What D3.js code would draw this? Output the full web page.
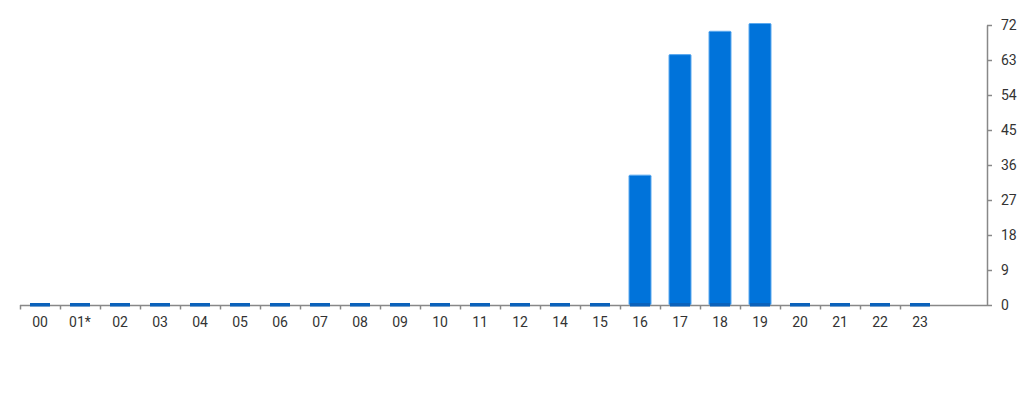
<!DOCTYPE html>
<html><head><meta charset="utf-8">
<script src="https://cdn.jsdelivr.net/npm/d3@7"></script>
<style>
html,body{margin:0;padding:0;background:#fff;}
svg{display:block;font-family:Roboto,"Noto Sans",sans-serif;}
</style></head>
<body>
<svg id="chart" width="1024" height="400"></svg>
<script>
const categories = ["00","01*","02","03","04","05","06","07","08","09","10","11","12","14","15","16","17","18","19","20","21","22","23"];
const values = [0,0,0,0,0,0,0,0,0,0,0,0,0,0,0,33,64,70,72,0,0,0,0];
const yTicks = [0,9,18,27,36,45,54,63,72];

(function(){
const svg = d3.select("#chart");
const mLeft = 20, axisRight = 987, mTop = 25, mBottom = 305, step = 40;

const x = d3.scaleBand().domain(categories).range([mLeft, mLeft + step * categories.length]).paddingInner(0).paddingOuter(0);
const y = d3.scaleLinear().domain([0, 72]).range([mBottom, mTop]);

// bars
svg.append("g").selectAll("rect.bar")
  .data(values.map((v, i) => ({c: categories[i], v})).filter(d => d.v > 0))
  .join("rect")
  .attr("x", d => x(d.c) + x.bandwidth() / 2 - 11)
  .attr("width", 22)
  .attr("y", d => y(d.v) - 1.5)
  .attr("height", d => mBottom - y(d.v) + 1.5)
  .attr("rx", 1)
  .attr("fill", "#0073da")
  .attr("stroke", "#5aa9ef")
  .attr("stroke-width", 1);

// x axis line
svg.append("line")
  .attr("x1", mLeft).attr("x2", axisRight)
  .attr("y1", mBottom + 0.5).attr("y2", mBottom + 0.5)
  .attr("stroke", "#888").attr("stroke-width", 1.5);

// x ticks at left edge of each band
svg.append("g").selectAll("line")
  .data(categories)
  .join("line")
  .attr("x1", d => x(d) + 0.5).attr("x2", d => x(d) + 0.5)
  .attr("y1", mBottom).attr("y2", mBottom + 4.5)
  .attr("stroke", "#888").attr("stroke-width", 1.5);

// baseline markers
svg.append("g").selectAll("rect")
  .data(categories)
  .join("rect")
  .attr("x", d => x(d) + x.bandwidth() / 2 - 10)
  .attr("width", 20)
  .attr("y", mBottom - 2)
  .attr("height", 3.5)
  .attr("fill", "#0b62bb");

// x labels
svg.append("g").selectAll("text")
  .data(categories)
  .join("text")
  .attr("x", d => x(d) + x.bandwidth() / 2)
  .attr("y", 327)
  .attr("text-anchor", "middle")
  .attr("font-size", 14)
  .attr("fill", "#333")
  .text(d => d);

// y axis on right
const yAxis = d3.axisRight(y).tickValues(yTicks).tickSize(5).tickPadding(9).tickSizeOuter(0);
const gy = svg.append("g").attr("transform", `translate(${axisRight},0)`).call(yAxis);
gy.select(".domain").attr("stroke", "#888").attr("stroke-width", 1.5);
gy.selectAll(".tick line").attr("stroke", "#888").attr("stroke-width", 1.5);
gy.selectAll(".tick text").attr("font-size", 14).attr("fill", "#333").attr("font-family", "Roboto,sans-serif");
})();
</script>
</body></html>
